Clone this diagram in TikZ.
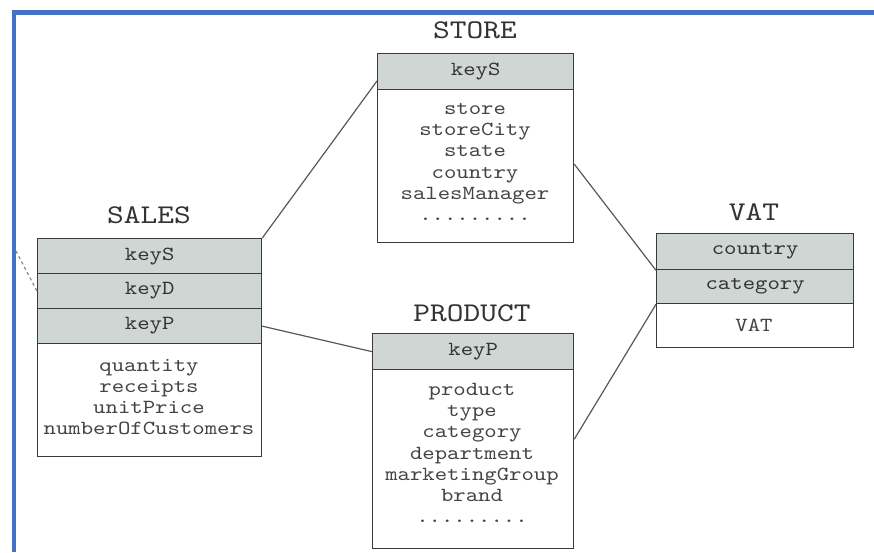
\documentclass[tikz,border=0pt]{standalone}
\usepackage{fontspec}
\usetikzlibrary{calc}
\newfontfamily\monofont{lmmono10-regular.otf}[FakeStretch=1.18]
\definecolor{frameblue}{HTML}{4472C4}
\definecolor{keyfill}{HTML}{CFD6D3}
\definecolor{edge}{HTML}{3A3A3A}
\definecolor{ink}{HTML}{333333}
\definecolor{softink}{HTML}{444444}

\begin{document}
\begin{tikzpicture}[x=1pt,y=-1pt,
  cell/.style={draw=edge, line width=1.3pt, inner sep=0pt, anchor=north west},
  keycell/.style={cell, fill=keyfill, text=ink,
    font=\monofont\fontsize{20}{22}\selectfont},
  bodycell/.style={cell, fill=white},
  fields/.style={align=center, inner sep=0pt, text=softink,
    font=\monofont\fontsize{20}{21.2}\selectfont},
  tabtitle/.style={inner sep=0pt, text=ink,
    font=\monofont\fontsize{27}{29}\selectfont},
  link/.style={draw=edge!85, line width=1.2pt},
  ghostlink/.style={draw=edge!60, line width=1.2pt, dash pattern=on 3pt off 3pt}]

\useasboundingbox (0,0) rectangle (874,552);
\fill[white] (0,0) rectangle (874,552);

% page frame
\draw[frameblue, line width=4.8pt] (14,552) -- (14,12.5) -- (874,12.5);

% SALES fact table
\node[tabtitle] (salesTitle) at (149,215) {SALES};
\node[keycell, minimum width=224pt, minimum height=35pt] (salesKeyS) at (37,238) {keyS};
\node[keycell, minimum width=224pt, minimum height=35pt] (salesKeyD) at (37,273) {keyD};
\node[keycell, minimum width=224pt, minimum height=35pt] (salesKeyP) at (37,308) {keyP};
\node[bodycell, minimum width=224pt, minimum height=113pt] (salesBody) at (37,343) {};
\node[fields] (salesFields) at (149,397) {quantity\\receipts\\unitPrice\\numberOfCustomers};

% STORE dimension
\node[tabtitle] (storeTitle) at (475,30) {STORE};
\node[keycell, minimum width=196pt, minimum height=36pt] (storeKeyS) at (377,53) {keyS};
\node[bodycell, minimum width=196pt, minimum height=153pt] (storeBody) at (377,89) {};
\node[fields] (storeFields) at (475,162) {store\\storeCity\\state\\country\\salesManager\\.........};

% PRODUCT dimension
\node[tabtitle] (productTitle) at (472,313) {PRODUCT};
\node[keycell, minimum width=201pt, minimum height=36pt] (productKeyP) at (372,333) {keyP};
\node[bodycell, minimum width=201pt, minimum height=179pt] (productBody) at (372,369) {};
\node[fields] (productFields) at (472,453) {product\\type\\category\\department\\marketingGroup\\brand\\.........};

% VAT table
\node[tabtitle] (vatTitle) at (754,212) {VAT};
\node[keycell, minimum width=197pt, minimum height=36pt] (vatCountry) at (656,233) {country};
\node[keycell, minimum width=197pt, minimum height=34pt] (vatCategory) at (656,269) {category};
\node[bodycell, minimum width=197pt, minimum height=44pt] (vatBody) at (656,303) {};
\node[fields] (vatFields) at (754,325) {VAT};

% links between tables
\draw[link] (salesKeyS.north east) -- ($(storeKeyS.south west)!0.25!(storeKeyS.north west)$);
\draw[link] (salesKeyP.east) -- (productKeyP.west);
\draw[link] ([yshift=2pt]storeBody.east) -- (vatCountry.south west);
\draw[link] ([yshift=20pt]productBody.east) -- (vatCategory.south west);
\coordinate (dateLinkEnd) at (16,251);
\draw[ghostlink] (dateLinkEnd) -- (salesKeyD.west);

\end{tikzpicture}
\end{document}
